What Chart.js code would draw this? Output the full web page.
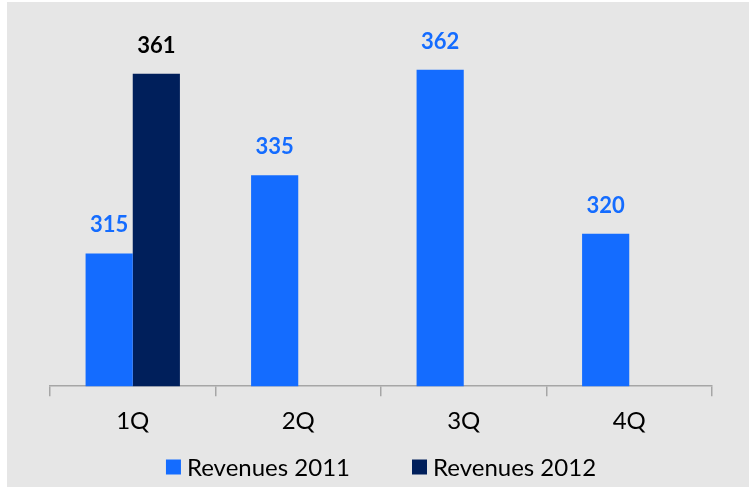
<!DOCTYPE html>
<html>
<head>
<meta charset="utf-8">
<script src="https://cdn.jsdelivr.net/npm/chart.js@4/dist/chart.umd.min.js"></script>
<style>
  html, body { margin: 0; padding: 0; background: #fff; }
  #wrap { position: absolute; left: 7px; top: 2px; width: 742px; height: 485px; background: #e6e6e6; }
</style>
</head>
<body>
<div id="wrap"><canvas id="chart" width="742" height="485"></canvas></div>
<script>
const quarters = ["1Q", "2Q", "3Q", "4Q"];
const rev2011 = [315, 335, 362, 320];
const rev2012 = [361, null, null, null];
const seriesNames = ["Revenues 2011", "Revenues 2012"];

const BLUE = "#146cff";
const NAVY = "#001f5b";
const FONT = "Lato, 'Open Sans', sans-serif";

// values above bars
const valueLabels = {
  id: "valueLabels",
  afterDatasetsDraw(chart) {
    const ctx = chart.ctx;
    ctx.save();
    ctx.font = "bold 22px " + FONT;
    ctx.textAlign = "center";
    ctx.textBaseline = "middle";
    chart.data.datasets.forEach((ds, i) => {
      const meta = chart.getDatasetMeta(i);
      meta.data.forEach((bar, j) => {
        const v = ds.data[j];
        if (v == null) return;
        ctx.fillStyle = i === 0 ? BLUE : "#000";
        ctx.fillText(v, bar.x, bar.y - 28);
      });
    });
    ctx.restore();
  }
};

// legend drawn under the axis, items spaced wider than the built-in one allows
const bottomLegend = {
  id: "bottomLegend",
  afterDraw(chart) {
    const ctx = chart.ctx;
    const box = 15, gap = 6, spacing = 62;
    ctx.save();
    ctx.font = "24px " + FONT;
    ctx.textBaseline = "middle";
    const items = chart.data.datasets.map(ds => ({
      text: ds.label, color: ds.backgroundColor, w: box + gap + ctx.measureText(ds.label).width
    }));
    const total = items.reduce((s, it) => s + it.w, 0) + spacing * (items.length - 1);
    const area = chart.chartArea;
    let x = (area.left + area.right) / 2 - total / 2;
    const y = 465;
    items.forEach(it => {
      ctx.fillStyle = it.color;
      ctx.fillRect(x, y - box / 2, box, box);
      ctx.fillStyle = "#000";
      ctx.fillText(it.text, x + box + gap, y + 1);
      x += it.w + spacing;
    });
    ctx.restore();
  }
};

new Chart(document.getElementById("chart"), {
  type: "bar",
  data: {
    labels: quarters,
    datasets: [
      { label: seriesNames[0], data: rev2011, backgroundColor: BLUE },
      { label: seriesNames[1], data: rev2012, backgroundColor: NAVY }
    ]
  },
  options: {
    responsive: false,
    animation: false,
    layout: { padding: { left: 43, right: 37, top: 17, bottom: 40 } },
    datasets: { bar: { categoryPercentage: 0.57, barPercentage: 1 } },
    scales: {
      x: {
        grid: { display: true, drawOnChartArea: false, offset: true, color: "#a6a6a6", tickLength: 10, lineWidth: 1.5 },
        border: { display: true, color: "#a6a6a6", width: 1.5 },
        ticks: { color: "#000", font: { family: FONT, size: 24 }, padding: 11 }
      },
      y: { display: false, min: 281, max: 375 }
    },
    plugins: {
      legend: { display: false },
      tooltip: { enabled: false }
    }
  },
  plugins: [valueLabels, bottomLegend]
});
</script>
</body>
</html>
